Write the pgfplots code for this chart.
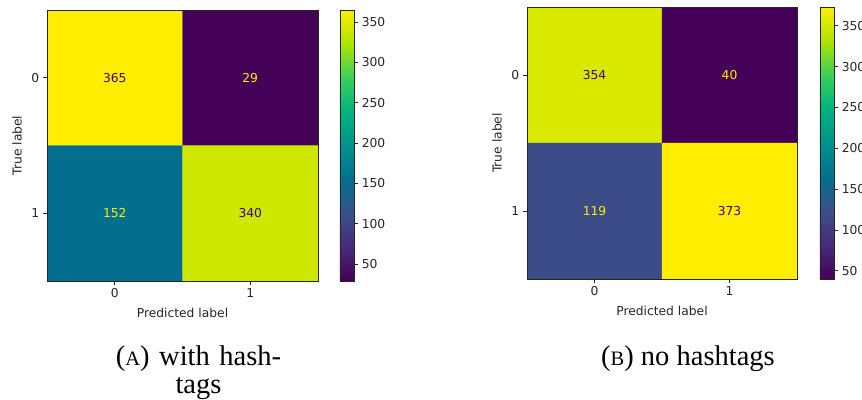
\documentclass[border=0pt]{standalone}
\usepackage{fontspec}
\setmainfont{DejaVu Sans}
\newfontfamily\capfont{Liberation Serif}
\usepackage{pgfplots}
\pgfplotsset{compat=1.18}
\definecolor{vmin}{HTML}{450057}
\definecolor{vmax}{HTML}{FFEE00}
\definecolor{axgray}{HTML}{262626}
\newcommand\mpl{\fontsize{12.3}{14.8}\selectfont}
\newcommand\capf{\capfont\fontsize{28.5}{27}\selectfont}
\newcommand\smc[1]{{\fontsize{20.5}{20}\selectfont #1}}
\pgfplotsset{
  colormap={vir}{
    rgb255=(69,0,87) rgb255=(71,42,124) rgb255=(58,80,139)
    rgb255=(0,112,142) rgb255=(0,147,140) rgb255=(0,180,126)
    rgb255=(58,208,90) rgb255=(173,228,0) rgb255=(255,238,0)},
  cm/.style={
    scale only axis,
    xmin=-0.5, xmax=1.5, ymin=-0.5, ymax=1.5, y dir=reverse,
    xtick={0,1}, ytick={0,1},
    xtick pos=bottom, ytick pos=left,
    tick align=outside, major tick length=4.3pt,
    tick style={axgray, line width=0.9pt},
    axis line style={axgray, line width=0.9pt},
    tick label style={font=\mpl, text=axgray},
    label style={font=\mpl, text=axgray},
    /pgf/number format/assume math mode=true,
    colormap name=vir,
    axis on top,
    xlabel={Predicted label}, ylabel={True label},
    xlabel style={at={(axis description cs:0.5,-0.118)}, anchor=center},
    ylabel style={at={(axis description cs:-0.111,0.5)}, anchor=center},
    colorbar,
  },
  cbar/.style={
    anchor=north west, xshift=#1,
    width=14pt, scale only axis,
    ytick={50,100,...,350},
    ytick pos=right, yticklabel pos=right,
    tick align=outside, major tick length=4.3pt,
    tick style={axgray, line width=0.9pt},
    axis line style={axgray, line width=0.9pt},
    tick label style={font=\mpl, text=axgray},
    /pgf/number format/assume math mode=true,
  },
  cellnum/.style={only marks, mark=none, point meta=explicit, nodes near coords,
    every node near coord/.append style={font=\mpl, text=#1, anchor=center}},
}
\begin{document}
\begin{tikzpicture}
\useasboundingbox (0,0) rectangle (862pt,399pt);
% (A)
\begin{axis}[cm, at={(47pt,118pt)}, anchor=south west, width=271pt, height=271pt,
  point meta min=29, point meta max=365,
  colorbar style={cbar=13pt}]
\addplot[matrix plot*, mesh/cols=2, point meta=explicit] coordinates {
  (0,0) [365] (1,0) [29]
  (0,1) [152] (1,1) [340]
};
\addplot[cellnum=vmin] coordinates {(0,0) [365] (1,1) [340]};
\addplot[cellnum=vmax] coordinates {(1,0) [29] (0,1) [152]};
\end{axis}
% (B)
\begin{axis}[cm, at={(527pt,120pt)}, anchor=south west, width=270pt, height=272pt,
  point meta min=40, point meta max=373,
  colorbar style={cbar=14pt}]
\addplot[matrix plot*, mesh/cols=2, point meta=explicit] coordinates {
  (0,0) [354] (1,0) [40]
  (0,1) [119] (1,1) [373]
};
\addplot[cellnum=vmin] coordinates {(0,0) [354] (1,1) [373]};
\addplot[cellnum=vmax] coordinates {(1,0) [40] (0,1) [119]};
\end{axis}
% captions
\node[anchor=base, font=\capf, inner sep=0pt] at (198.5pt,33.5pt) {(\smc{A})\hspace{2.5pt} with\hspace{2.5pt} hash-};
\node[anchor=base, font=\capf, inner sep=0pt] at (198.5pt,6pt) {tags};
\node[anchor=base, font=\capf, inner sep=0pt] at (688pt,33.5pt) {(\smc{B}) no hashtags};
\end{tikzpicture}
\end{document}
